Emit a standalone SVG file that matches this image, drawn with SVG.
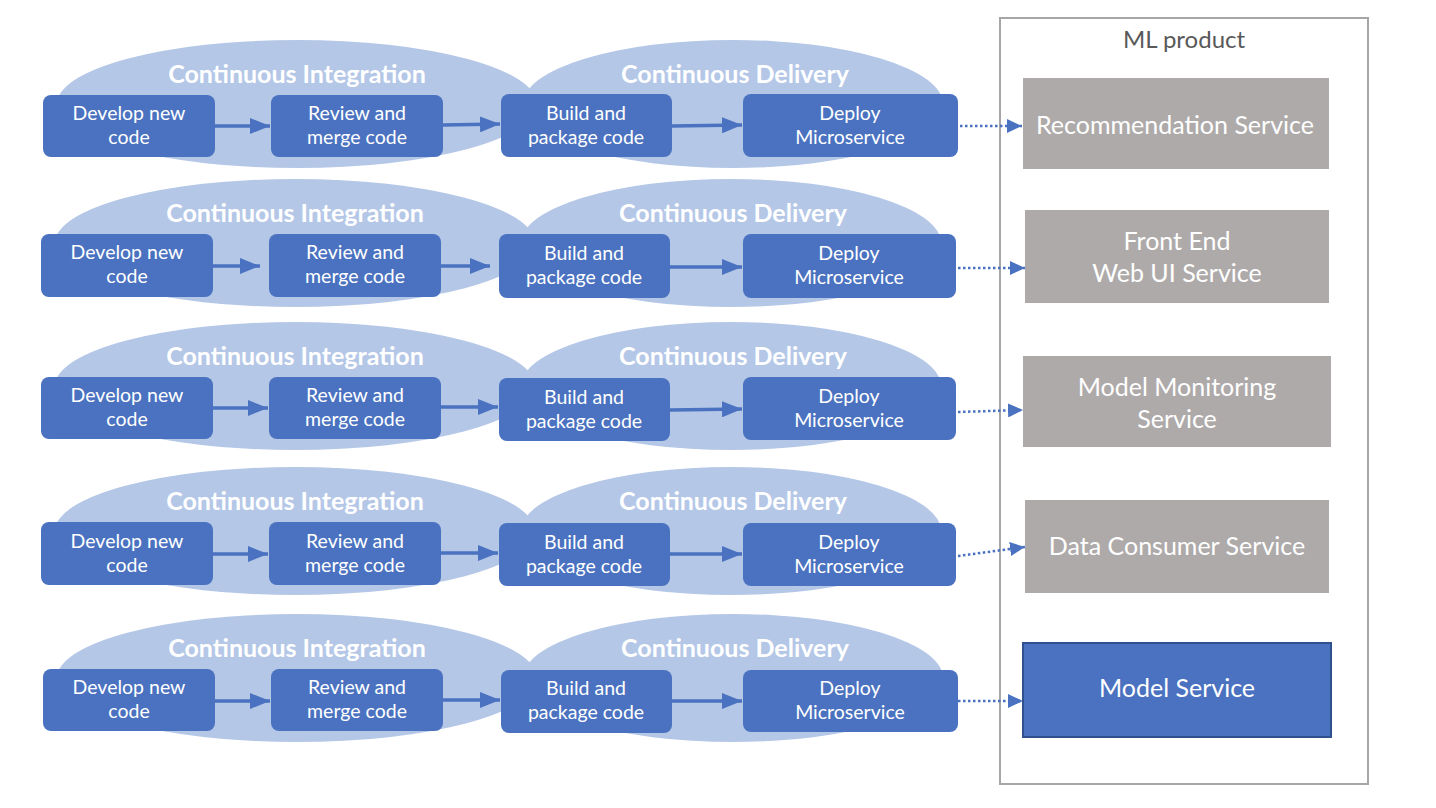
<svg xmlns="http://www.w3.org/2000/svg" width="1436" height="808" viewBox="0 0 1436 808">
<defs>
<style>
.ell{fill:#b4c7e7}
.box{fill:#4a72c0}
.bt{font-family:Lato,"Liberation Sans",sans-serif;font-size:19.5px;fill:#fff;text-anchor:middle}
.tt{font-family:Lato,"Liberation Sans",sans-serif;font-size:25px;font-weight:bold;fill:#fff;text-anchor:middle}
.st{font-family:Lato,"Liberation Sans",sans-serif;font-size:25px;fill:#fff;text-anchor:middle}
.svc{fill:#aeaaaa}
.sol{stroke:#4a72c0;stroke-width:3.5;fill:none}
.dot{stroke:#4a72c0;stroke-width:2.5;stroke-dasharray:2.5 2.5;fill:none}
</style>
<marker id="ah" markerUnits="userSpaceOnUse" markerWidth="20" markerHeight="16" refX="20" refY="8" orient="auto"><path d="M0,0 L20,8 L0,16 z" fill="#4a72c0"/></marker>
<marker id="dh" markerUnits="userSpaceOnUse" markerWidth="15" markerHeight="14" refX="15" refY="7" orient="auto"><path d="M0,0 L15,7 L0,14 z" fill="#4a72c0"/></marker>
</defs>
<rect width="1436" height="808" fill="#fff"/>

<!-- ML product container -->
<g id="ml-product">
<rect x="1000" y="18" width="368" height="766" fill="#fff" stroke="#a6a6a6" stroke-width="2"/>
<text x="1184" y="48" font-family="Lato,'Liberation Sans',sans-serif" font-size="24" fill="#595959" text-anchor="middle">ML product</text>
</g>

<!-- Row 1 -->
<g id="row1-bg">
<ellipse class="ell" cx="297" cy="104" rx="240" ry="64"/>
<ellipse class="ell" cx="733" cy="104" rx="210" ry="64"/>
<text class="tt" x="297" y="83">Continuous Integration</text>
<text class="tt" x="735" y="83">Continuous Delivery</text>
</g>
<!-- Row 2 -->
<g id="row2-bg">
<ellipse class="ell" cx="295" cy="243" rx="240" ry="64"/>
<ellipse class="ell" cx="731" cy="243" rx="210" ry="64"/>
<text class="tt" x="295" y="222">Continuous Integration</text>
<text class="tt" x="733" y="222">Continuous Delivery</text>
</g>
<!-- Row 3 -->
<g id="row3-bg">
<ellipse class="ell" cx="295" cy="386" rx="240" ry="64"/>
<ellipse class="ell" cx="731" cy="386" rx="210" ry="64"/>
<text class="tt" x="295" y="365">Continuous Integration</text>
<text class="tt" x="733" y="365">Continuous Delivery</text>
</g>
<!-- Row 4 -->
<g id="row4-bg">
<ellipse class="ell" cx="295" cy="531" rx="240" ry="64"/>
<ellipse class="ell" cx="731" cy="531" rx="210" ry="64"/>
<text class="tt" x="295" y="510">Continuous Integration</text>
<text class="tt" x="733" y="510">Continuous Delivery</text>
</g>
<!-- Row 5 -->
<g id="row5-bg">
<ellipse class="ell" cx="297" cy="678" rx="240" ry="64"/>
<ellipse class="ell" cx="733" cy="678" rx="210" ry="64"/>
<text class="tt" x="297" y="657">Continuous Integration</text>
<text class="tt" x="735" y="657">Continuous Delivery</text>
</g>

<!-- Connectors -->
<g id="connectors">
<line class="sol" x1="215" y1="126" x2="270" y2="126" marker-end="url(#ah)"/>
<line class="sol" x1="443" y1="125" x2="500" y2="124" marker-end="url(#ah)"/>
<line class="sol" x1="672" y1="126" x2="742" y2="125" marker-end="url(#ah)"/>
<line class="dot" x1="960" y1="126" x2="1022" y2="126" marker-end="url(#dh)"/>

<line class="sol" x1="213" y1="266" x2="260" y2="266" marker-end="url(#ah)"/>
<line class="sol" x1="441" y1="266" x2="490" y2="266" marker-end="url(#ah)"/>
<line class="sol" x1="670" y1="267" x2="742" y2="267" marker-end="url(#ah)"/>
<line class="dot" x1="958" y1="268" x2="1025" y2="268" marker-end="url(#dh)"/>

<line class="sol" x1="213" y1="408" x2="268" y2="408" marker-end="url(#ah)"/>
<line class="sol" x1="441" y1="407" x2="498" y2="407" marker-end="url(#ah)"/>
<line class="sol" x1="670" y1="410" x2="742" y2="409" marker-end="url(#ah)"/>
<line class="dot" x1="958" y1="412" x2="1023" y2="410" marker-end="url(#dh)"/>

<line class="sol" x1="213" y1="554" x2="268" y2="554" marker-end="url(#ah)"/>
<line class="sol" x1="441" y1="553" x2="498" y2="553" marker-end="url(#ah)"/>
<line class="sol" x1="670" y1="554" x2="742" y2="554" marker-end="url(#ah)"/>
<line class="dot" x1="958" y1="556" x2="1025" y2="547" marker-end="url(#dh)"/>

<line class="sol" x1="215" y1="701" x2="270" y2="701" marker-end="url(#ah)"/>
<line class="sol" x1="443" y1="700" x2="500" y2="700" marker-end="url(#ah)"/>
<line class="sol" x1="672" y1="701" x2="742" y2="701" marker-end="url(#ah)"/>
<line class="dot" x1="958" y1="701" x2="1023" y2="701" marker-end="url(#dh)"/>
</g>

<!-- Row 1 nodes -->
<g id="r1-develop"><rect class="box" x="43" y="95" width="172" height="62" rx="8"/><text class="bt" x="129" y="120">Develop new</text><text class="bt" x="129" y="144">code</text></g>
<g id="r1-review"><rect class="box" x="271" y="95" width="172" height="62" rx="8"/><text class="bt" x="357" y="120">Review and</text><text class="bt" x="357" y="144">merge code</text></g>
<g id="r1-build"><rect class="box" x="501" y="94" width="171" height="63" rx="8"/><text class="bt" x="586" y="120">Build and</text><text class="bt" x="586" y="144">package code</text></g>
<g id="r1-deploy"><rect class="box" x="743" y="94" width="215" height="63" rx="8"/><text class="bt" x="850" y="120">Deploy</text><text class="bt" x="850" y="144">Microservice</text></g>

<!-- Row 2 nodes -->
<g id="r2-develop"><rect class="box" x="41" y="234" width="172" height="63" rx="8"/><text class="bt" x="127" y="259">Develop new</text><text class="bt" x="127" y="283">code</text></g>
<g id="r2-review"><rect class="box" x="269" y="234" width="172" height="63" rx="8"/><text class="bt" x="355" y="259">Review and</text><text class="bt" x="355" y="283">merge code</text></g>
<g id="r2-build"><rect class="box" x="499" y="234" width="171" height="64" rx="8"/><text class="bt" x="584" y="260">Build and</text><text class="bt" x="584" y="284">package code</text></g>
<g id="r2-deploy"><rect class="box" x="743" y="234" width="213" height="64" rx="8"/><text class="bt" x="849" y="260">Deploy</text><text class="bt" x="849" y="284">Microservice</text></g>

<!-- Row 3 nodes -->
<g id="r3-develop"><rect class="box" x="41" y="377" width="172" height="62" rx="8"/><text class="bt" x="127" y="402">Develop new</text><text class="bt" x="127" y="426">code</text></g>
<g id="r3-review"><rect class="box" x="269" y="377" width="172" height="62" rx="8"/><text class="bt" x="355" y="402">Review and</text><text class="bt" x="355" y="426">merge code</text></g>
<g id="r3-build"><rect class="box" x="499" y="378" width="171" height="63" rx="8"/><text class="bt" x="584" y="404">Build and</text><text class="bt" x="584" y="428">package code</text></g>
<g id="r3-deploy"><rect class="box" x="743" y="377" width="213" height="63" rx="8"/><text class="bt" x="849" y="403">Deploy</text><text class="bt" x="849" y="427">Microservice</text></g>

<!-- Row 4 nodes -->
<g id="r4-develop"><rect class="box" x="41" y="522" width="172" height="63" rx="8"/><text class="bt" x="127" y="548">Develop new</text><text class="bt" x="127" y="572">code</text></g>
<g id="r4-review"><rect class="box" x="269" y="522" width="172" height="63" rx="8"/><text class="bt" x="355" y="548">Review and</text><text class="bt" x="355" y="572">merge code</text></g>
<g id="r4-build"><rect class="box" x="499" y="523" width="171" height="63" rx="8"/><text class="bt" x="584" y="549">Build and</text><text class="bt" x="584" y="573">package code</text></g>
<g id="r4-deploy"><rect class="box" x="743" y="523" width="213" height="63" rx="8"/><text class="bt" x="849" y="549">Deploy</text><text class="bt" x="849" y="573">Microservice</text></g>

<!-- Row 5 nodes -->
<g id="r5-develop"><rect class="box" x="43" y="669" width="172" height="62" rx="8"/><text class="bt" x="129" y="694">Develop new</text><text class="bt" x="129" y="718">code</text></g>
<g id="r5-review"><rect class="box" x="271" y="669" width="172" height="62" rx="8"/><text class="bt" x="357" y="694">Review and</text><text class="bt" x="357" y="718">merge code</text></g>
<g id="r5-build"><rect class="box" x="501" y="670" width="171" height="63" rx="8"/><text class="bt" x="586" y="695">Build and</text><text class="bt" x="586" y="719">package code</text></g>
<g id="r5-deploy"><rect class="box" x="743" y="670" width="215" height="62" rx="8"/><text class="bt" x="850" y="695">Deploy</text><text class="bt" x="850" y="719">Microservice</text></g>

<!-- Services -->
<g id="svc-recommendation"><rect class="svc" x="1023" y="78" width="306" height="91"/><text class="st" x="1175" y="134">Recommendation Service</text></g>
<g id="svc-frontend"><rect class="svc" x="1025" y="210" width="304" height="93"/><text class="st" x="1177" y="250">Front End</text><text class="st" x="1177" y="282">Web UI Service</text></g>
<g id="svc-monitoring"><rect class="svc" x="1023" y="356" width="308" height="91"/><text class="st" x="1177" y="396">Model Monitoring</text><text class="st" x="1177" y="428">Service</text></g>
<g id="svc-dataconsumer"><rect class="svc" x="1025" y="500" width="304" height="93"/><text class="st" x="1177" y="555">Data Consumer Service</text></g>
<g id="svc-model"><rect x="1023" y="643" width="308" height="94" fill="#4a72c0" stroke="#2f528f" stroke-width="2"/><text class="st" x="1177" y="697">Model Service</text></g>
</svg>
